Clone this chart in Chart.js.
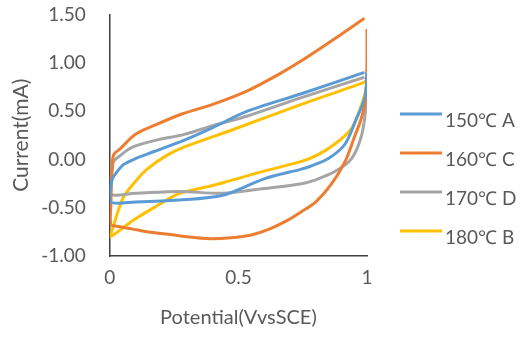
<!DOCTYPE html>
<html>
<head>
<meta charset="utf-8">
<script src="https://cdn.jsdelivr.net/npm/chart.js@4.4.1/dist/chart.umd.min.js"></script>
<style>
  html, body { margin: 0; padding: 0; background: #fff; }
</style>
</head>
<body>
<canvas id="cvChart" width="520" height="338"></canvas>
<script>
const seriesNames = ['150℃ A', '160℃ C', '170℃ D', '180℃ B'];
const seriesColors = ['#5B9BD5', '#ED7D31', '#A5A5A5', '#FFC000'];
const xTicks = [0, 0.5, 1];
const yTicks = [-1, -0.5, 0, 0.5, 1, 1.5];

// each loop: right side down, back scan to 0, then forward scan up to 1
const potA = [1.0, 0.995, 0.98, 0.96, 0.915, 0.85, 0.78, 0.745, 0.6, 0.44, 0.27, 0.1, 0.0, 0.003, 0.01, 0.03, 0.055, 0.1, 0.17, 0.29, 0.4, 0.535, 0.745, 0.99];
const curA = [0.9, 0.68, 0.55, 0.43, 0.16, 0.01, -0.07, -0.1, -0.2, -0.37, -0.42, -0.44, -0.44, -0.3, -0.2, -0.12, -0.05, 0.01, 0.08, 0.2, 0.33, 0.5, 0.68, 0.9];

const potC = [1.0, 1.0, 0.998, 0.993, 0.975, 0.955, 0.915, 0.86, 0.8, 0.745, 0.69, 0.62, 0.55, 0.47, 0.39, 0.3, 0.22, 0.15, 0.09, 0.03, 0.003, 0.005, 0.008, 0.015, 0.04, 0.1, 0.18, 0.28, 0.4, 0.535, 0.65, 0.745, 0.87, 0.99];
const curC = [1.35, 1.05, 0.8, 0.6, 0.4, 0.26, -0.02, -0.26, -0.44, -0.54, -0.63, -0.72, -0.78, -0.81, -0.82, -0.8, -0.77, -0.75, -0.72, -0.69, -0.67, -0.4, -0.12, 0.05, 0.11, 0.26, 0.36, 0.47, 0.57, 0.71, 0.87, 1.02, 1.24, 1.46];

const potD = [1.0, 0.998, 0.98, 0.94, 0.875, 0.8, 0.745, 0.6, 0.44, 0.27, 0.1, 0.0, 0.003, 0.01, 0.015, 0.045, 0.07, 0.1, 0.18, 0.29, 0.4, 0.535, 0.745, 0.99];
const curD = [0.86, 0.6, 0.26, 0.01, -0.125, -0.21, -0.25, -0.3, -0.35, -0.33, -0.35, -0.36, -0.2, -0.1, -0.02, 0.05, 0.1, 0.14, 0.2, 0.26, 0.35, 0.45, 0.64, 0.85];

const potB = [1.0, 0.995, 0.97, 0.94, 0.875, 0.81, 0.745, 0.6, 0.44, 0.35, 0.27, 0.17, 0.09, 0.0, 0.015, 0.03, 0.055, 0.095, 0.145, 0.22, 0.29, 0.48, 0.745, 0.99, 1.0];
const curB = [0.83, 0.71, 0.5, 0.32, 0.16, 0.05, -0.02, -0.12, -0.24, -0.3, -0.35, -0.5, -0.63, -0.8, -0.68, -0.55, -0.38, -0.24, -0.1, 0.04, 0.13, 0.31, 0.57, 0.8, 0.83];

const potentials = [potA, potC, potD, potB];
const currents = [curA, curC, curD, curB];

const tickFont = { family: 'Lato', size: 19 };
const labelColor = '#595959';

const legendLines = {
  id: 'legendLines',
  afterDraw(chart) {
    const ctx = chart.ctx;
    ctx.save();
    ctx.font = '19px Lato';
    ctx.fillStyle = labelColor;
    ctx.textBaseline = 'middle';
    ctx.lineWidth = 3;
    chart.data.datasets.forEach((ds, k) => {
      const y = 114 + k * 39;
      ctx.strokeStyle = ds.borderColor;
      ctx.beginPath();
      ctx.moveTo(400, y);
      ctx.lineTo(442, y);
      ctx.stroke();
      ctx.fillText(ds.label, 445, y + 7);
    });
    ctx.restore();
  }
};

new Chart(document.getElementById('cvChart'), {
  type: 'scatter',
  data: {
    datasets: seriesNames.map((name, k) => ({
      label: name,
      data: potentials[k].map((v, j) => ({ x: v, y: currents[k][j] })),
      showLine: true,
      borderColor: seriesColors[k],
      backgroundColor: seriesColors[k],
      borderWidth: 3,
      pointRadius: 0,
      tension: 0.3
    }))
  },
  options: {
    responsive: false,
    animation: false,
    layout: { padding: { left: 5, right: 153, top: 0, bottom: 4 } },
    plugins: { legend: { display: false }, tooltip: { enabled: false } },
    scales: {
      x: {
        type: 'linear',
        min: 0,
        max: 1,
        afterBuildTicks: axis => { axis.ticks = xTicks.map(v => ({ value: v })); },
        grid: { display: false, drawTicks: true, tickLength: 8 },
        border: { display: true, color: '#404040', width: 1.5 },
        ticks: { color: labelColor, font: tickFont, padding: 2, callback: v => String(v) },
        title: { display: true, text: 'Potential(VvsSCE)', color: labelColor, font: { family: 'Lato', size: 20 }, padding: { top: 15, bottom: 4 } }
      },
      y: {
        min: -1,
        max: 1.5,
        afterBuildTicks: axis => { axis.ticks = yTicks.map(v => ({ value: v })); },
        grid: { display: false, drawTicks: true, tickLength: 21 },
        border: { display: true, color: '#404040', width: 1.5 },
        ticks: { color: labelColor, font: tickFont, padding: 3, callback: v => Number(v).toFixed(2) },
        title: { display: true, text: 'Current(mA)', color: labelColor, font: { family: 'Lato', size: 21 }, padding: { top: 4, bottom: 4 } }
      }
    }
  },
  plugins: [legendLines]
});
</script>
</body>
</html>
